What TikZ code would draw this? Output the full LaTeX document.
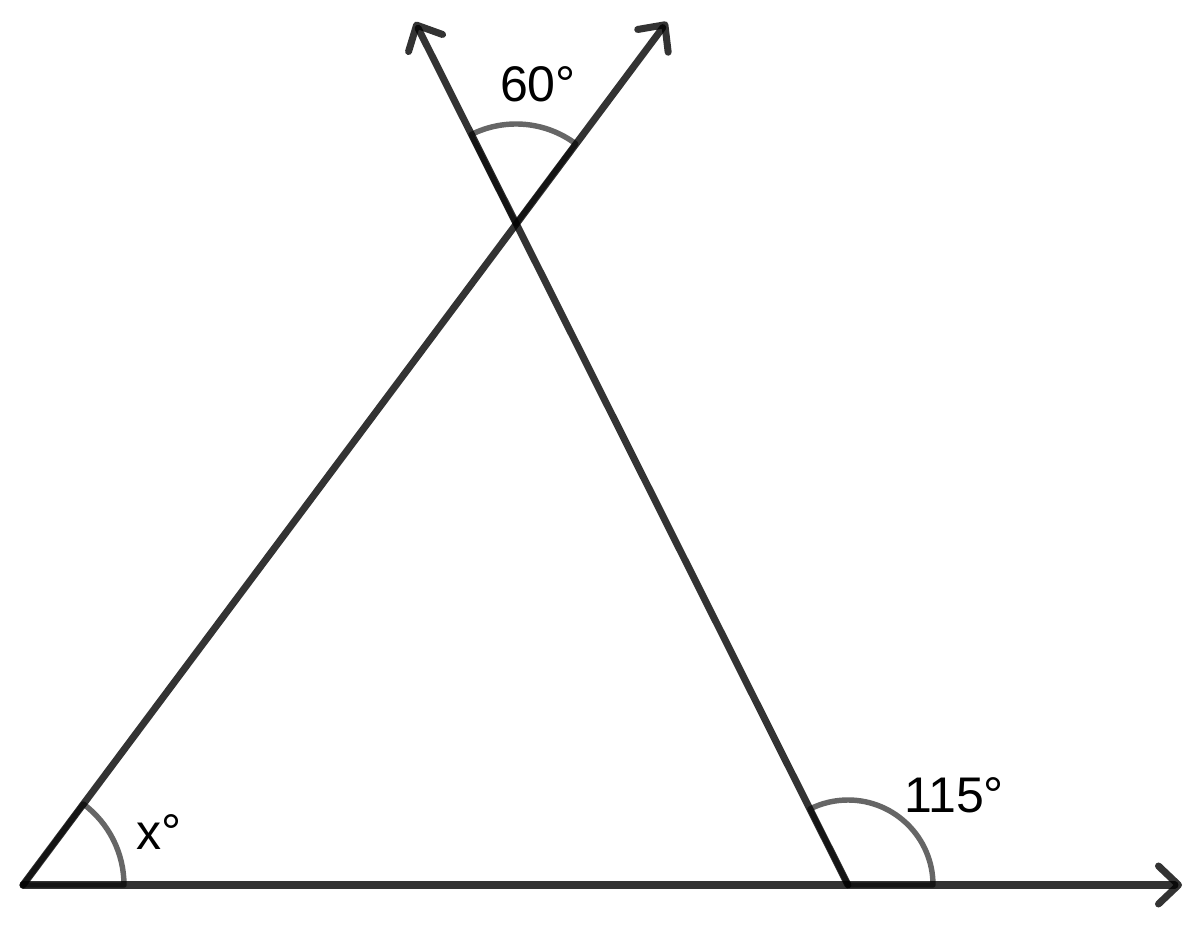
\documentclass[tikz,border=0pt]{standalone}
\usepackage{fontspec}
\setmainfont{Liberation Sans}
\usetikzlibrary{arrows.meta}
\begin{document}
\begin{tikzpicture}[x=0.02cm,y=0.02cm,
		ray/.style={line width=4pt, draw=black, draw opacity=0.8, line cap=round,
			-{Straight Barb[length=4mm,width=7.6mm,round]}},
		angmark/.style={line width=3.1pt, draw=black, draw opacity=0.6, line join=round},
		lbl/.style={font=\fontsize{28.5}{32}\selectfont, inner sep=0pt}]
		\useasboundingbox (0,0) rectangle (1200,936);
		\coordinate (A) at (23,51);
		\coordinate (B) at (848,51);
		\coordinate (C) at (516,712);
		\coordinate (baseEnd) at (1182,51);
		\coordinate (tipL) at (415,914);
		\coordinate (tipR) at (667,914);
		
		\draw[ray] (A) -- (baseEnd);
		\draw[ray] (A) -- (tipR);
		\draw[ray] (B) -- (tipL);
		
		\draw[angmark] (A) -- ++(0:101) arc[start angle=0, end angle=53.3, radius=101] -- cycle;
		\draw[angmark] (B) -- ++(0:85) arc[start angle=0, end angle=116.6, radius=85] -- cycle;
		\draw[angmark] (C) -- ++(53.3:100) arc[start angle=53.3, end angle=116.6, radius=100] -- cycle;
		
		\node[lbl] (lblTop) at (538,852) {60°};
		\node[lbl] (lblX) at (159,104) {x°};
		\node[lbl] (lblB) at (954,141) {115°};
	\end{tikzpicture}
\end{document}
